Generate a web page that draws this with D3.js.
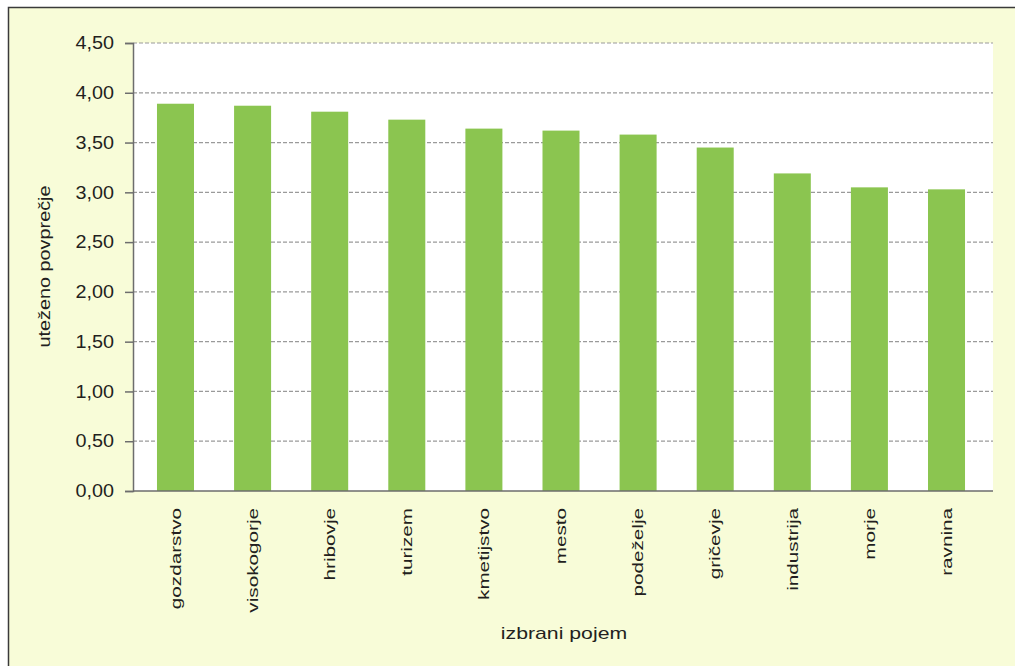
<!DOCTYPE html>
<html><head><meta charset="utf-8">
<script src="https://cdn.jsdelivr.net/npm/d3@7"></script>
<style>body{margin:0;background:#fff}svg{display:block}text{font-family:"Liberation Sans",Arial,sans-serif;fill:#231f20}</style>
</head><body>
<svg id="c" width="1015" height="666"></svg>
<script>
const categories = ["gozdarstvo","visokogorje","hribovje","turizem","kmetijstvo","mesto","podeželje","gričevje","industrija","morje","ravnina"];
const values = [3.89,3.87,3.81,3.73,3.64,3.62,3.58,3.45,3.19,3.05,3.03];
const yTicks = [0,0.5,1,1.5,2,2.5,3,3.5,4,4.5];
const yTitle = "uteženo povprečje";
const xTitle = "izbrani pojem";

const svg = d3.select("#c");
svg.append("rect").attr("x",8.5).attr("y",7.5).attr("width",1030).attr("height",680)
  .attr("fill","#f8fcd8").attr("stroke","#3a3a3a").attr("stroke-width",1.5);

const L=133,R=993,T=43,B=491;
const x = d3.scaleBand().domain(categories).range([L,989]).paddingInner(0.52).paddingOuter(0.311);
const y = d3.scaleLinear().domain([0,4.5]).range([B,T]);

svg.append("rect").attr("x",L).attr("y",T).attr("width",R-L).attr("height",B-T).attr("fill","#fff");

svg.append("g").selectAll("line").data(yTicks.filter(d=>d>0)).join("line")
  .attr("x1",L).attr("x2",R).attr("y1",d=>y(d)).attr("y2",d=>y(d))
  .attr("stroke","#9a9a9a").attr("stroke-width",1.2).attr("stroke-dasharray","4,2");

svg.append("g").selectAll("rect").data(values).join("rect")
  .attr("x",(d,i)=>x(categories[i])).attr("width",x.bandwidth())
  .attr("y",d=>y(d)).attr("height",d=>B-y(d)).attr("fill","#8bc550");

const ya = svg.append("g").attr("transform",`translate(${L},0)`)
  .call(d3.axisLeft(y).tickValues(yTicks).tickSize(8).tickPadding(11).tickFormat(d=>d3.format(".2f")(d).replace(".",",")));
ya.select(".domain").attr("stroke","#6d6d6d").attr("stroke-width",1.5);
ya.selectAll(".tick line").attr("stroke","#6d6d6d").attr("stroke-width",1.5);
ya.selectAll("text").attr("font-size",18).attr("fill","#231f20")
  .attr("x",-19/1.1).attr("transform","scale(1.1,1)");

const xa = svg.append("g").attr("transform",`translate(0,${B})`)
  .call(d3.axisBottom(x).tickSize(0).tickSizeOuter(0));
xa.select(".domain").remove();
xa.append("line").attr("x1",L).attr("x2",R).attr("stroke","#6d6d6d").attr("stroke-width",1.5);
xa.selectAll("text").attr("font-size",15).attr("fill","#231f20")
  .attr("transform","rotate(-90) scale(1.38,1)").attr("text-anchor","end").attr("dy","0.35em").attr("x",-17/1.38).attr("y",0);

svg.append("text").attr("transform","translate(49.5,266.5) rotate(-90) scale(1.24,1)").attr("text-anchor","middle")
  .attr("font-size",16).text(yTitle);
svg.append("text").attr("transform","translate(564,639) scale(1.25,1)").attr("text-anchor","middle").attr("font-size",17).text(xTitle);
</script>
</body></html>
